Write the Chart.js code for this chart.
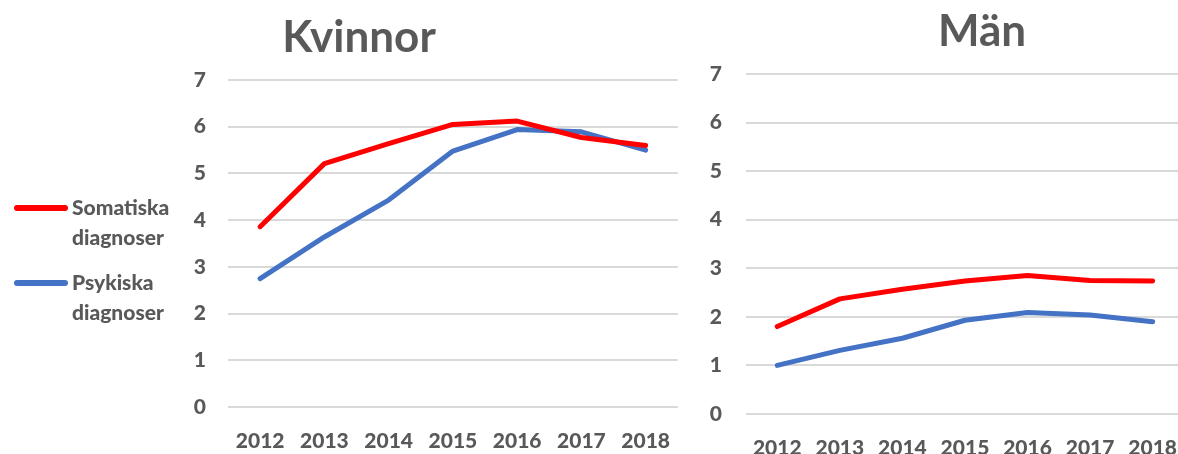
<!DOCTYPE html>
<html lang="sv">

<head>
    <meta charset="UTF-8">
    <script src="https://cdn.jsdelivr.net/npm/chart.js@4.4.1/dist/chart.umd.min.js"></script>
    <title>Kvinnor / Män</title>
    <style>
        html, body { margin: 0; padding: 0; background: #fff; }
        body { width: 1178px; height: 454px; overflow: hidden; position: relative;
               font-family: Lato, "Noto Sans", sans-serif; color: #595959; }
        .panel { position: absolute; top: 0; height: 454px; }
        .ptitle { position: absolute; font-weight: bold; font-size: 44px; line-height: 52px;
                  transform: translateX(-50%); white-space: nowrap; }
        .legend { position: absolute; left: 14px; top: 192px; font-weight: 900; font-size: 21px; }
        .legend .item { position: relative; padding-left: 58px; line-height: 30px; margin-bottom: 15px; }
        .legend .swatch { position: absolute; left: 0; top: 13px; width: 54px; height: 6px; border-radius: 3px; }
    </style>
</head>

<body>
    <div class="panel" style="left:0;width:692px"><canvas id="womenChart" width="692" height="454"></canvas></div>
    <div class="panel" style="left:690px;width:509px"><canvas id="menChart" width="509" height="454"></canvas></div>
    <div class="ptitle" style="left:359px;top:9px">Kvinnor</div>
    <div class="ptitle" style="left:982px;top:3px">Män</div>
    <div class="legend" id="legend"></div>

    <script>
        // data
        const years = ['2012', '2013', '2014', '2015', '2016', '2017', '2018'];
        const seriesNames = [['Somatiska', 'diagnoser'], ['Psykiska', 'diagnoser']];
        const seriesColors = ['#ff0000', '#4472c4'];
        const womenSomatic = [3.86, 5.21, 5.64, 6.05, 6.12, 5.77, 5.6];
        const womenPsych = [2.75, 3.64, 4.43, 5.48, 5.94, 5.89, 5.5];
        const menSomatic = [1.8, 2.37, 2.57, 2.74, 2.85, 2.75, 2.74];
        const menPsych = [1.0, 1.31, 1.56, 1.93, 2.09, 2.04, 1.9];
        const yTicks = [0, 1, 2, 3, 4, 5, 6, 7];

        const tickFont = { family: 'Lato, "Noto Sans", sans-serif', size: 21, weight: '900' };

        function makeChart(id, values, yWidth, top, xHeight, yPad, xPad) {
            const ctx = document.getElementById(id).getContext('2d');
            return new Chart(ctx, {
                type: 'line',
                data: {
                    labels: years,
                    datasets: values.map((v, i) => ({
                        label: seriesNames[i].join(' '),
                        data: v,
                        borderColor: seriesColors[i],
                        backgroundColor: seriesColors[i],
                        borderWidth: 5,
                        borderCapStyle: 'round',
                        borderJoinStyle: 'round',
                        pointRadius: 0,
                        tension: 0
                    }))
                },
                options: {
                    responsive: false,
                    animation: false,
                    layout: { padding: { top: top, bottom: 0, left: 0, right: 0 } },
                    plugins: { legend: { display: false }, title: { display: false }, tooltip: { enabled: false } },
                    scales: {
                        x: {
                            offset: true,
                            grid: { display: false, drawTicks: false },
                            border: { display: false },
                            ticks: { color: '#595959', font: tickFont, padding: xPad, maxRotation: 0 },
                            afterFit: s => { s.height = xHeight; }
                        },
                        y: {
                            min: 0,
                            max: 7,
                            afterBuildTicks: s => { s.ticks = yTicks.map(v => ({ value: v })); },
                            grid: { color: '#d9d9d9', lineWidth: 2, drawTicks: false },
                            border: { display: false },
                            ticks: { color: '#595959', font: tickFont, padding: yPad },
                            afterFit: s => { s.width = yWidth; }
                        }
                    }
                }
            });
        }

        makeChart('womenChart', [womenSomatic, womenPsych], 228, 80, 47, 22, 22);
        makeChart('menChart', [menSomatic, menPsych], 56, 74, 40, 24, 22);

        // legend
        const legend = document.getElementById('legend');
        seriesNames.forEach((name, i) => {
            const item = document.createElement('div');
            item.className = 'item';
            item.innerHTML = '<span class="swatch" style="background:' + seriesColors[i] + '"></span>' + name.join('<br>');
            legend.appendChild(item);
        });
    </script>
</body>

</html>
